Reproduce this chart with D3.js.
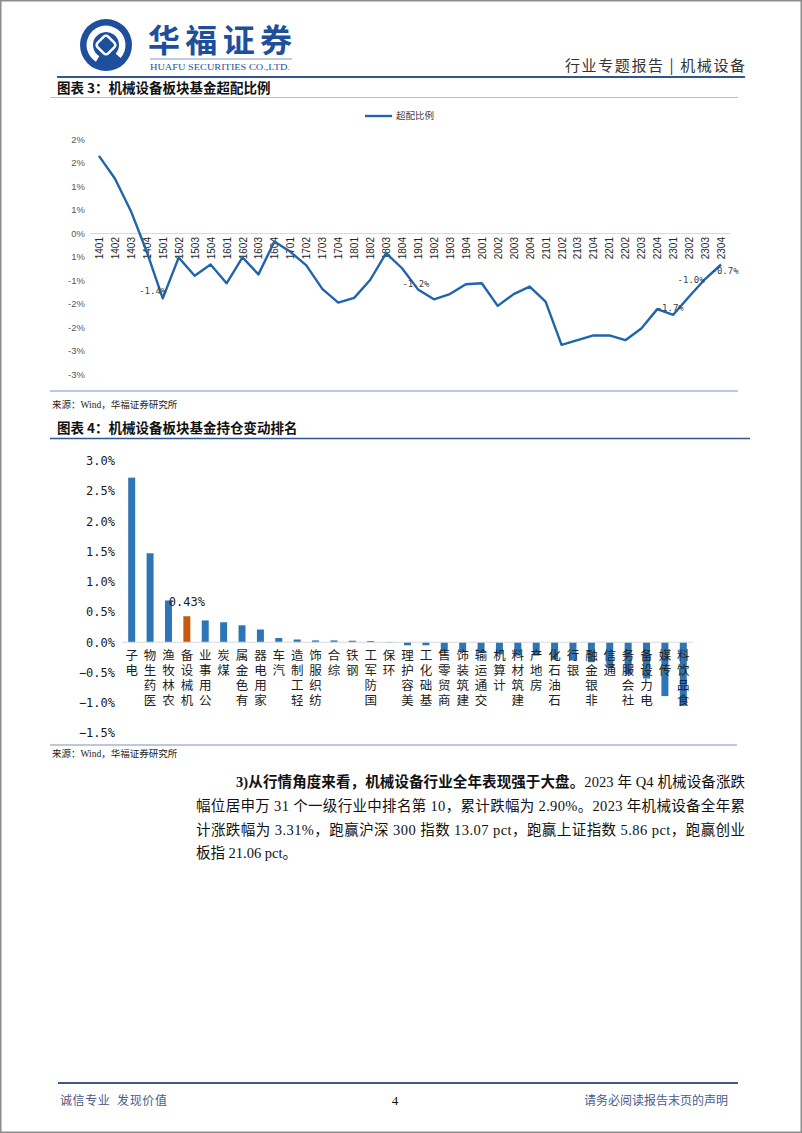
<!DOCTYPE html>
<html><head><meta charset="utf-8">
<script src="https://cdn.jsdelivr.net/npm/d3@7"></script>
<style>body{margin:0;background:#fff}svg{display:block}</style>
</head><body>
<svg id="page" width="802" height="1133"></svg>
<script>
// ---------- Chart 3 data ----------
const quarters = ["1401","1402","1403","1404","1501","1502","1503","1504","1601","1602","1603","1604",
  "1701","1702","1703","1704","1801","1802","1803","1804","1901","1902","1903","1904",
  "2001","2002","2003","2004","2101","2102","2103","2104","2201","2202","2203","2204",
  "2301","2302","2303","2304"];
const overweight = [1.64,1.16,0.47,-0.40,-1.39,-0.52,-0.91,-0.67,-1.07,-0.52,-0.88,-0.18,
  -0.40,-0.69,-1.19,-1.48,-1.38,-1.00,-0.43,-0.75,-1.20,-1.41,-1.30,-1.09,
  -1.07,-1.55,-1.30,-1.14,-1.46,-2.38,-2.28,-2.18,-2.18,-2.28,-2.03,-1.62,
  -1.74,-1.35,-0.98,-0.67];
const labelQuarters = ["1501","1901","2301","2303","2304"];
const labelTexts = ["-1.4%","-1.2%","-1.7%","-1.0%","-0.7%"];
const yTicks3 = [2,1.5,1,0.5,0,-0.5,-1,-1.5,-2,-2.5,-3];
const yTickLabels3 = ["2%","2%","1%","1%","0%","1%","-1%","-2%","-2%","-3%","-3%"];
const legend3 = "超配比例";

// ---------- Chart 4 data ----------
const industries = ["电子","医药生物","农林牧渔","机械设备","公用事业","煤炭","有色金属","家用电器","汽车",
  "轻工制造","纺织服饰","综合","钢铁","国防军工","环保","美容护理","基础化工","商贸零售","建筑装饰",
  "交通运输","计算机","建筑材料","房地产","石油石化","银行","非银金融","通信","社会服务","电力设备","传媒","食品饮料"];
const holdingChange = [2.72,1.47,0.69,0.43,0.36,0.33,0.28,0.21,0.07,
  0.045,0.03,0.03,0.025,0.02,-0.01,-0.05,-0.05,-0.155,-0.155,
  -0.18,-0.20,-0.22,-0.22,-0.29,-0.30,-0.33,-0.43,-0.53,-0.60,-0.89,-1.05];
const highlightIndustry = "机械设备";
const highlightLabel = "0.43%";
const yTicks4 = [3,2.5,2,1.5,1,0.5,0,-0.5,-1,-1.5];

// ---------- styles ----------
const CJK = "'Noto Sans CJK SC', sans-serif";
const SERIF = "'Liberation Serif', 'Noto Sans CJK SC', serif";
const BLUE_DARK = "#1d4f9c";
const svg = d3.select("#page");

// page border
svg.append("rect").attr("x",0.75).attr("y",0.75).attr("width",800.5).attr("height",1131.5)
  .attr("fill","#fff").attr("stroke","#8c8c8c").attr("stroke-width",1.5);

// ---------- header ----------
const logo = svg.append("g").attr("transform","translate(106,45)");
logo.append("circle").attr("r",26).attr("fill",BLUE_DARK);
logo.append("path").attr("d", d3.arc()({innerRadius:13,outerRadius:19.5,startAngle:-2.6,endAngle:2.3})).attr("fill","#fff");
logo.append("rect").attr("x",-7.5).attr("y",-7.5).attr("width",15).attr("height",15).attr("rx",3)
  .attr("transform","rotate(45)").attr("fill",BLUE_DARK).attr("stroke","#fff").attr("stroke-width",2.5);
svg.append("text").attr("x",148).attr("y",52).attr("font-family",CJK).attr("font-weight",700)
  .attr("font-size",32).attr("fill",BLUE_DARK).attr("textLength",144).text("华福证券");
svg.append("line").attr("x1",150).attr("x2",292).attr("y1",59).attr("y2",59).attr("stroke","#6a7fa8").attr("stroke-width",0.8);
svg.append("text").attr("x",150).attr("y",70).attr("font-family","'Liberation Serif', serif")
  .attr("font-size",9).attr("fill",BLUE_DARK).attr("textLength",140).attr("lengthAdjust","spacingAndGlyphs")
  .text("HUAFU SECURITIES CO.,LTD.");
svg.append("text").attr("x",745).attr("y",71).attr("text-anchor","end").attr("font-family",CJK)
  .attr("font-size",15).attr("fill","#333").attr("textLength",180).attr("lengthAdjust","spacing")
  .text("行业专题报告 | 机械设备");
svg.append("line").attr("x1",57).attr("x2",745).attr("y1",77).attr("y2",77).attr("stroke","#2f5597").attr("stroke-width",2);

// ---------- chart 3 frame ----------
svg.append("text").attr("x",57).attr("y",93).attr("font-family",CJK).attr("font-weight",700)
  .attr("font-size",13.5).attr("fill","#111").text("图表 3：机械设备板块基金超配比例");
svg.append("line").attr("x1",50).attr("x2",738).attr("y1",97.5).attr("y2",97.5).attr("stroke","#bfbfbf").attr("stroke-width",1);
svg.append("line").attr("x1",50).attr("x2",738).attr("y1",391).attr("y2",391).attr("stroke","#a9b6cf").attr("stroke-width",1.5);
svg.append("text").attr("x",52).attr("y",408).attr("font-family",SERIF).attr("font-size",9.5)
  .attr("fill","#222").text("来源：Wind，华福证券研究所");

// ---------- chart 3 ----------
const x3 = d3.scalePoint().domain(quarters).range([90,730]).padding(0.56);
const y3 = d3.scaleLinear().domain([-3,2]).range([374,139]);
const c3 = svg.append("g");

const ya3 = c3.append("g").attr("transform","translate(85,0)")
  .call(d3.axisLeft(y3).tickValues(yTicks3).tickSize(0).tickPadding(0)
    .tickFormat((d,i)=>yTickLabels3[i]));
ya3.select(".domain").remove();
ya3.selectAll("text").attr("font-family","'Liberation Sans', Arial, sans-serif").attr("font-size",9.5).attr("fill","#595959");

const xa3 = c3.append("g").attr("transform",`translate(0,${y3(0)})`)
  .call(d3.axisBottom(x3).tickSize(0));
xa3.select(".domain").attr("stroke","#d9d9d9").attr("stroke-width",1);
xa3.selectAll("text").attr("font-family","'Liberation Sans', Arial, sans-serif").attr("font-size",10)
  .attr("fill","#262626").attr("transform","rotate(-90)").attr("text-anchor","end")
  .attr("x",-4).attr("y",0).attr("dy","0.35em");

const pts = quarters.map((q,i)=>({q, v: overweight[i]}));
c3.append("path").datum(pts)
  .attr("d", d3.line().x(d=>x3(d.q)).y(d=>y3(d.v)))
  .attr("fill","none").attr("stroke","#1f64ad").attr("stroke-width",2.4).attr("stroke-linejoin","round");

const labelDx = [-10,-2,-3,-14,4];
const labelDy = [-7,-6,-7,1,6];
labelQuarters.forEach((q,i)=>{
  const v = overweight[quarters.indexOf(q)];
  c3.append("text").attr("x",x3(q)+labelDx[i]).attr("y",y3(v)+labelDy[i]).attr("dy","0.35em")
    .attr("text-anchor","middle").attr("font-family","'DejaVu Sans Mono', monospace").attr("font-size",9)
    .attr("fill","#404040").text(labelTexts[i]);
});

c3.append("line").attr("x1",365).attr("x2",392).attr("y1",116).attr("y2",116).attr("stroke","#1f64ad").attr("stroke-width",2.4);
c3.append("text").attr("x",396).attr("y",116).attr("dy","0.35em").attr("font-family",CJK).attr("font-size",9.5)
  .attr("fill","#404040").text(legend3);

// ---------- chart 4 frame ----------
svg.append("text").attr("x",57).attr("y",433).attr("font-family",CJK).attr("font-weight",700)
  .attr("font-size",13.5).attr("fill","#111").text("图表 4：机械设备板块基金持仓变动排名");
svg.append("line").attr("x1",50).attr("x2",750).attr("y1",438.5).attr("y2",438.5).attr("stroke","#2f5597").attr("stroke-width",1.5);
svg.append("line").attr("x1",50).attr("x2",737).attr("y1",745).attr("y2",745).attr("stroke","#a9b6cf").attr("stroke-width",1.5);
svg.append("text").attr("x",52).attr("y",757).attr("font-family",SERIF).attr("font-size",9.5)
  .attr("fill","#222").text("来源：Wind，华福证券研究所");

// ---------- chart 4 ----------
const x4 = d3.scaleBand().domain(industries).range([122.5,692.5]).paddingInner(0.62).paddingOuter(0.31);
const y4 = d3.scaleLinear().domain([-1.5,3]).range([733,460.7]);
const c4 = svg.append("g");

const ya4 = c4.append("g").attr("transform","translate(115,0)")
  .call(d3.axisLeft(y4).tickValues(yTicks4).tickSize(0).tickPadding(0).tickFormat(d=>d3.format(".1f")(d)+"%"));
ya4.select(".domain").remove();
ya4.selectAll("text").attr("font-family","'DejaVu Sans Mono', monospace").attr("font-size",12).attr("fill","#1a1a1a");

const bars = industries.map((n,i)=>({n, v: holdingChange[i]}));
c4.selectAll("rect.bar").data(bars).enter().append("rect").attr("class","bar")
  .attr("x",d=>x4(d.n)).attr("width",x4.bandwidth())
  .attr("y",d=>y4(Math.max(0,d.v))).attr("height",d=>Math.abs(y4(d.v)-y4(0)))
  .attr("fill",d=>d.n===highlightIndustry?"#c55a11":"#2e75b6");

c4.append("line").attr("x1",122).attr("x2",693).attr("y1",y4(0)).attr("y2",y4(0)).attr("stroke","#d9d9d9").attr("stroke-width",1);

// category labels: one text per label, upright glyphs stacked reading bottom-to-top
const step4 = 15;
c4.append("g").selectAll("text").data(industries).enter().append("text")
  .attr("x", n => Array.from(n).map(()=> (x4(n)+x4.bandwidth()/2).toFixed(1)).join(" "))
  .attr("y", n => { const c = Array.from(n); return c.map((_,i)=> (y4(0)+17.5+(c.length-1-i)*step4).toFixed(1)).join(" "); })
  .attr("text-anchor","middle").attr("font-family",CJK).attr("font-size",12.5).attr("fill","#222")
  .text(n=>n);

const hv = holdingChange[industries.indexOf(highlightIndustry)];
c4.append("text").attr("x",x4(highlightIndustry)+x4.bandwidth()/2).attr("y",y4(hv)-14).attr("dy","0.35em")
  .attr("text-anchor","middle").attr("font-family","'DejaVu Sans Mono', monospace").attr("font-size",12)
  .attr("fill","#1a1a1a").text(highlightLabel);

// ---------- paragraph ----------
const para = svg.append("g").attr("font-family",SERIF).attr("font-size",14.5).attr("fill","#111");
const t1 = para.append("text").attr("x",236).attr("y",787).attr("textLength",509).attr("lengthAdjust","spacing");
t1.append("tspan").attr("font-weight",700).text("3)从行情角度来看，机械设备行业全年表现强于大盘。");
t1.append("tspan").text("2023 年 Q4 机械设备涨跌");
para.append("text").attr("x",196).attr("y",811).attr("textLength",549).attr("lengthAdjust","spacing")
  .text("幅位居申万 31 个一级行业中排名第 10，累计跌幅为 2.90%。2023 年机械设备全年累");
para.append("text").attr("x",196).attr("y",835).attr("textLength",549).attr("lengthAdjust","spacing")
  .text("计涨跌幅为 3.31%，跑赢沪深 300 指数 13.07 pct，跑赢上证指数 5.86 pct，跑赢创业");
para.append("text").attr("x",196).attr("y",858).text("板指 21.06 pct。");

// ---------- footer ----------
svg.append("line").attr("x1",58).attr("x2",738).attr("y1",1083).attr("y2",1083).attr("stroke","#3e5a85").attr("stroke-width",1.8);
svg.append("text").attr("x",60).attr("y",1105).attr("font-family",CJK).attr("font-size",12).attr("fill","#4b5a8c")
  .attr("textLength",107).attr("lengthAdjust","spacing").text("诚信专业\u00a0\u00a0发现价值");
svg.append("text").attr("x",395).attr("y",1105).attr("text-anchor","middle").attr("font-family","'Liberation Serif', serif").attr("font-size",13).attr("fill","#111").text("4");
svg.append("text").attr("x",728).attr("y",1105).attr("text-anchor","end").attr("font-family",CJK).attr("font-size",12).attr("fill","#4b5a8c").text("请务必阅读报告末页的声明");
</script>
</body></html>
